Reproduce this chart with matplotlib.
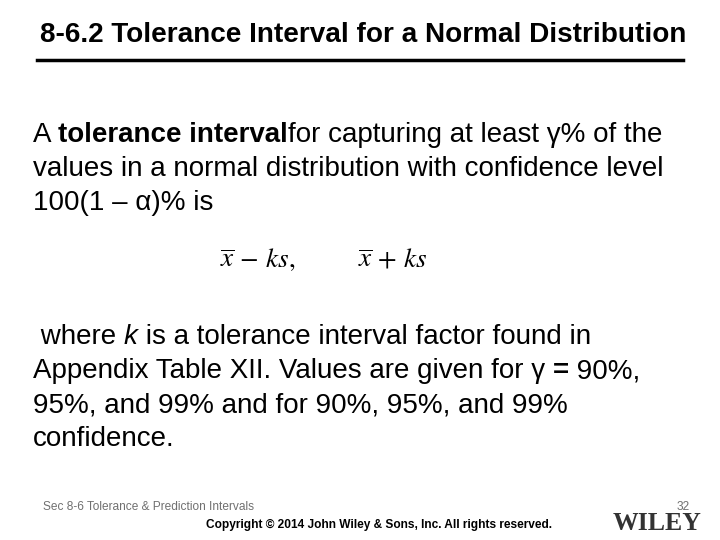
import matplotlib
matplotlib.use("Agg")
import matplotlib.pyplot as plt

title = "8-6.2 Tolerance Interval for a Normal Distribution"
line1 = [("A ", "normal"), ("tolerance interval", "bold"), ("for capturing at least γ% of the", "normal")]
body1 = ["values in a normal distribution with confidence level", "100(1 – α)% is"]
line_k = [(" where ", "normal", "normal"), ("k", "normal", "italic"), (" is a tolerance interval factor found in", "normal", "normal")]
line_g = [("Appendix Table XII. Values are given for γ ", "normal", "normal"), ("=", "bold", "normal"), (" 90%,", "normal", "normal")]
body2 = ["95%, and 99% and for 90%, 95%, and 99%", "confidence."]
footer = "Sec 8-6 Tolerance & Prediction Intervals"
page = "32"
copyright_txt = "Copyright © 2014 John Wiley & Sons, Inc. All rights reserved."

W, H = 720, 540
fig = plt.figure(figsize=(7.2, 5.4), dpi=100)
ax = fig.add_axes([0, 0, 1, 1])
ax.set_xlim(0, W); ax.set_ylim(H, 0); ax.axis("off")
F = "Liberation Sans"
fs = 20
r = fig.canvas.get_renderer()

def pieces(x, y, parts):
    for p in parts:
        s, w = p[0], p[1]
        st = p[2] if len(p) > 2 else "normal"
        t = ax.text(x, y, s, fontsize=fs, fontweight=w, fontstyle=st, family=F, va="center")
        x += t.get_window_extent(renderer=r).width

ax.text(40, 35, title, fontsize=20.1, fontweight="bold", family=F, va="center")
ax.plot([37, 683], [60, 60], color="black", lw=2.5)

pieces(33, 135, line1)
for i, s in enumerate(body1):
    ax.text(33, 169 + 34 * i, s, fontsize=fs, family=F, va="center")

ax.text(220, 260, r"$\overline{x}\,-\,ks,$", fontsize=19.5, va="center", math_fontfamily="stix")
ax.text(358, 260, r"$\overline{x}\,+\,ks$", fontsize=19.5, va="center", math_fontfamily="stix")

pieces(33, 337, line_k)
pieces(33, 371, line_g)
for i, s in enumerate(body2):
    ax.text(33, 405 + 34 * i, s, fontsize=fs, family=F, va="center")

ax.text(43, 507, footer, fontsize=8.6, color="#707070", family=F, va="center")
ax.text(690, 507, page, fontsize=8.6, color="#707070", family=F, va="center", ha="right")
ax.text(379, 525, copyright_txt, fontsize=8.6, fontweight="bold", family=F, va="center", ha="center")
ax.text(657, 524, "WILEY", fontsize=18.5, fontweight="bold", family="Liberation Serif",
        color="#333333", va="center", ha="center")

fig.savefig("out.png", dpi=100)
